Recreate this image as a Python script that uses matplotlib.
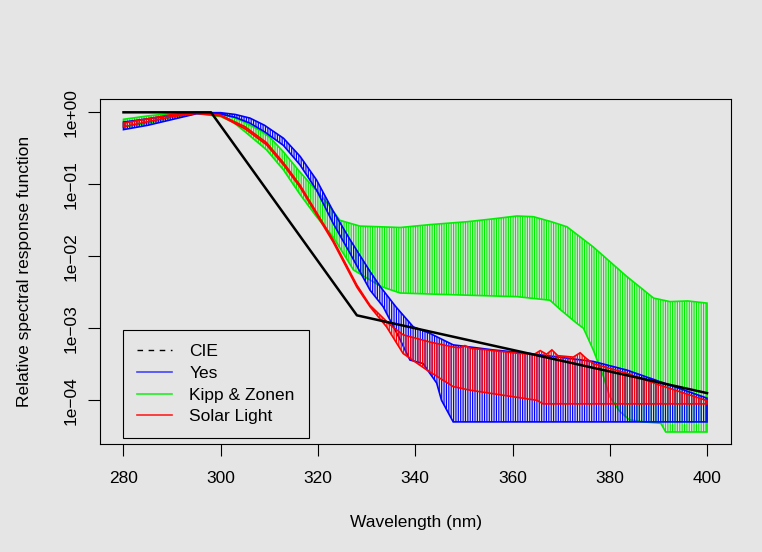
import numpy as np
import matplotlib
matplotlib.use("Agg")
import matplotlib.pyplot as plt
from matplotlib.ticker import NullLocator, FixedLocator, FixedFormatter
from matplotlib.lines import Line2D

plt.rcParams['font.family'] = ['Liberation Sans', 'DejaVu Sans']
plt.rcParams['hatch.linewidth'] = 0.85

# ---- data (response values stored as log10) ----
cie_wl = [280, 298, 328, 400]
cie_log10 = [0.0, 0.0, -2.82, -3.90]

yes_up_wl = [280, 285, 290, 295, 300, 303, 306, 309, 312.9, 316.3, 319.7, 323.1, 326.6,
             330.7, 332.8, 336, 339.6, 343, 347.8, 351.3, 356, 363.6, 371.8, 376.6,
             383.5, 390.3, 400]
yes_up_log10 = [-0.135, -0.09, -0.04, -0.005, -0.005, -0.03, -0.08, -0.18, -0.36, -0.61,
                -0.94, -1.37, -1.77, -2.21, -2.42, -2.70, -2.98, -3.07, -3.23, -3.26,
                -3.30, -3.35, -3.42, -3.46, -3.58, -3.74, -3.97]
yes_lo_wl = [280, 285, 290, 295, 300, 303, 306, 309, 312.9, 316.3, 319.7, 323.1, 326.6,
             330.7, 333.4, 336.9, 338.9, 341.6, 344.4, 345.4, 347.8, 400]
yes_lo_log10 = [-0.24, -0.18, -0.10, -0.02, -0.025, -0.07, -0.15, -0.27, -0.46, -0.73,
                -1.08, -1.54, -1.96, -2.47, -2.70, -3.16, -3.44, -3.49, -3.76, -4.0,
                -4.30, -4.30]

kz_up_wl = [280, 285, 290, 295, 300, 302.6, 305, 308, 310, 312.9, 316.3, 321.8, 324.5,
            328.6, 336.9, 343, 350.6, 356, 360.9, 364.3, 368, 371.2, 376.6, 383.5, 389,
            392.4, 396, 400]
kz_up_log10 = [-0.097, -0.05, -0.015, -0.005, -0.02, -0.07, -0.14, -0.25, -0.34, -0.55,
               -0.83, -1.25, -1.50, -1.58, -1.60, -1.56, -1.52, -1.48, -1.44, -1.45,
               -1.52, -1.59, -1.87, -2.28, -2.58, -2.63, -2.62, -2.65]
kz_lo_wl = [280, 285, 290, 295, 300, 302.6, 305, 309.4, 312.9, 316.3, 319.7, 323.1,
            327.3, 330, 333, 336.9, 350.6, 360.9, 367.7, 370, 373.2, 374.6, 376.6,
            378.7, 380, 382, 384, 387, 390.5, 391.5, 400]
kz_lo_log10 = [-0.204, -0.15, -0.07, -0.015, -0.06, -0.14, -0.27, -0.52, -0.80, -1.14,
               -1.45, -1.73, -2.19, -2.30, -2.42, -2.51, -2.54, -2.56, -2.61, -2.75,
               -2.93, -3.0, -3.30, -3.67, -3.95, -4.15, -4.27, -4.30, -4.32, -4.44, -4.44]

sl_up_wl = [280, 285, 290, 295, 300, 305, 309.4, 312.9, 316.3, 323.1, 328, 330.7, 334.8,
            337.5, 343, 347.8, 349.2, 350.2, 351.5, 354.7, 361.5, 364.5, 365.7, 367,
            368.1, 369.3, 372.5, 373.9, 375.2, 376.6, 383.5, 390.3, 400]
sl_up_log10 = [-0.15, -0.09, -0.03, -0.005, -0.04, -0.20, -0.42, -0.70, -1.01, -1.77,
               -2.40, -2.68, -2.95, -3.09, -3.19, -3.26, -3.27, -3.24, -3.28, -3.30,
               -3.35, -3.36, -3.31, -3.36, -3.30, -3.38, -3.40, -3.34, -3.42, -3.49,
               -3.625, -3.79, -4.005]
sl_lo_wl = [280, 285, 290, 295, 300, 305, 309.4, 312.9, 316.3, 323.1, 328, 330.7, 334.1,
            337.5, 342.4, 347.8, 351.3, 358.1, 365.0, 366.3, 400]
sl_lo_log10 = [-0.20, -0.13, -0.06, -0.015, -0.05, -0.23, -0.45, -0.73, -1.04, -1.80,
               -2.43, -2.70, -2.98, -3.35, -3.58, -3.81, -3.86, -3.93, -4.0, -4.05, -4.05]

legend_labels = ["CIE", "Yes", "Kipp & Zonen", "Solar Light"]
x_ticks = [280, 300, 320, 340, 360, 380, 400]
y_ticks = [1e0, 1e-1, 1e-2, 1e-3, 1e-4]
y_tick_labels = ["1e+00", "1e\u221201", "1e\u221202", "1e\u221203", "1e\u221204"]

BG = '#e5e5e5'
fig = plt.figure(figsize=(7.62, 5.52), dpi=100, facecolor=BG)
ax = fig.add_axes([100/762, 108/552, 631/762, 345/552])
ax.set_facecolor(BG)
ax.set_yscale('log')


def band(up_wl, up_log, lo_wl, lo_log, color):
    xs = np.concatenate([np.asarray(up_wl, float), np.asarray(lo_wl, float)[::-1]])
    ys = np.power(10.0, np.concatenate([np.asarray(up_log, float),
                                        np.asarray(lo_log, float)[::-1]]))
    ax.fill(xs, ys, facecolor='none', edgecolor=color, hatch='|' * 7, linewidth=1.2)


band(kz_up_wl, kz_up_log10, kz_lo_wl, kz_lo_log10, '#00ee00')
band(yes_up_wl, yes_up_log10, yes_lo_wl, yes_lo_log10, '#0000ff')
band(sl_up_wl, sl_up_log10, sl_lo_wl, sl_lo_log10, '#ff0000')
ax.plot(cie_wl, np.power(10.0, cie_log10), color='black', lw=1.8, solid_joinstyle='round')

ax.set_xlim(275.17, 404.93)
ax.set_ylim(10 ** -4.607, 10 ** 0.185)

ax.xaxis.set_major_locator(FixedLocator(x_ticks))
ax.yaxis.set_major_locator(FixedLocator(y_ticks))
ax.yaxis.set_major_formatter(FixedFormatter(y_tick_labels))
ax.yaxis.set_minor_locator(NullLocator())
ax.tick_params(axis='both', direction='out', length=8.5, width=0.8, colors='black',
               labelsize=12.5)
ax.tick_params(axis='x', pad=11)
ax.tick_params(axis='y', pad=7)
for lab in ax.get_yticklabels():
    lab.set_rotation(90)
    lab.set_va('center')
for s in ax.spines.values():
    s.set_linewidth(0.8)
    s.set_color('black')

ax.set_xlabel("Wavelength (nm)", fontsize=12.5)
ax.xaxis.set_label_coords(0.5, (444 - 523) / 345)
ax.xaxis.label.set_va('center')
ax.set_ylabel("Relative spectral response function", fontsize=12.5)
ax.yaxis.set_label_coords((25 - 100) / 631, 0.5)
ax.yaxis.label.set_va('center')

handles = [Line2D([], [], color='black', ls=(0, (4, 4)), lw=1),
           Line2D([], [], color='#4444ff', lw=1.2),
           Line2D([], [], color='#22ee22', lw=1.2),
           Line2D([], [], color='#ff2222', lw=1.2)]
leg = ax.legend(handles, legend_labels, loc='lower left',
                bbox_to_anchor=((123.3 - 100) / 631, (444 - 438.3) / 345),
                borderaxespad=0, fontsize=12.5, frameon=True, fancybox=False,
                edgecolor='black', facecolor=BG, framealpha=1, borderpad=0.8,
                labelspacing=0.38, handlelength=2.0, handletextpad=1.0)
leg.get_frame().set_linewidth(0.8)

fig.savefig('out.png', dpi=100, facecolor=BG)
